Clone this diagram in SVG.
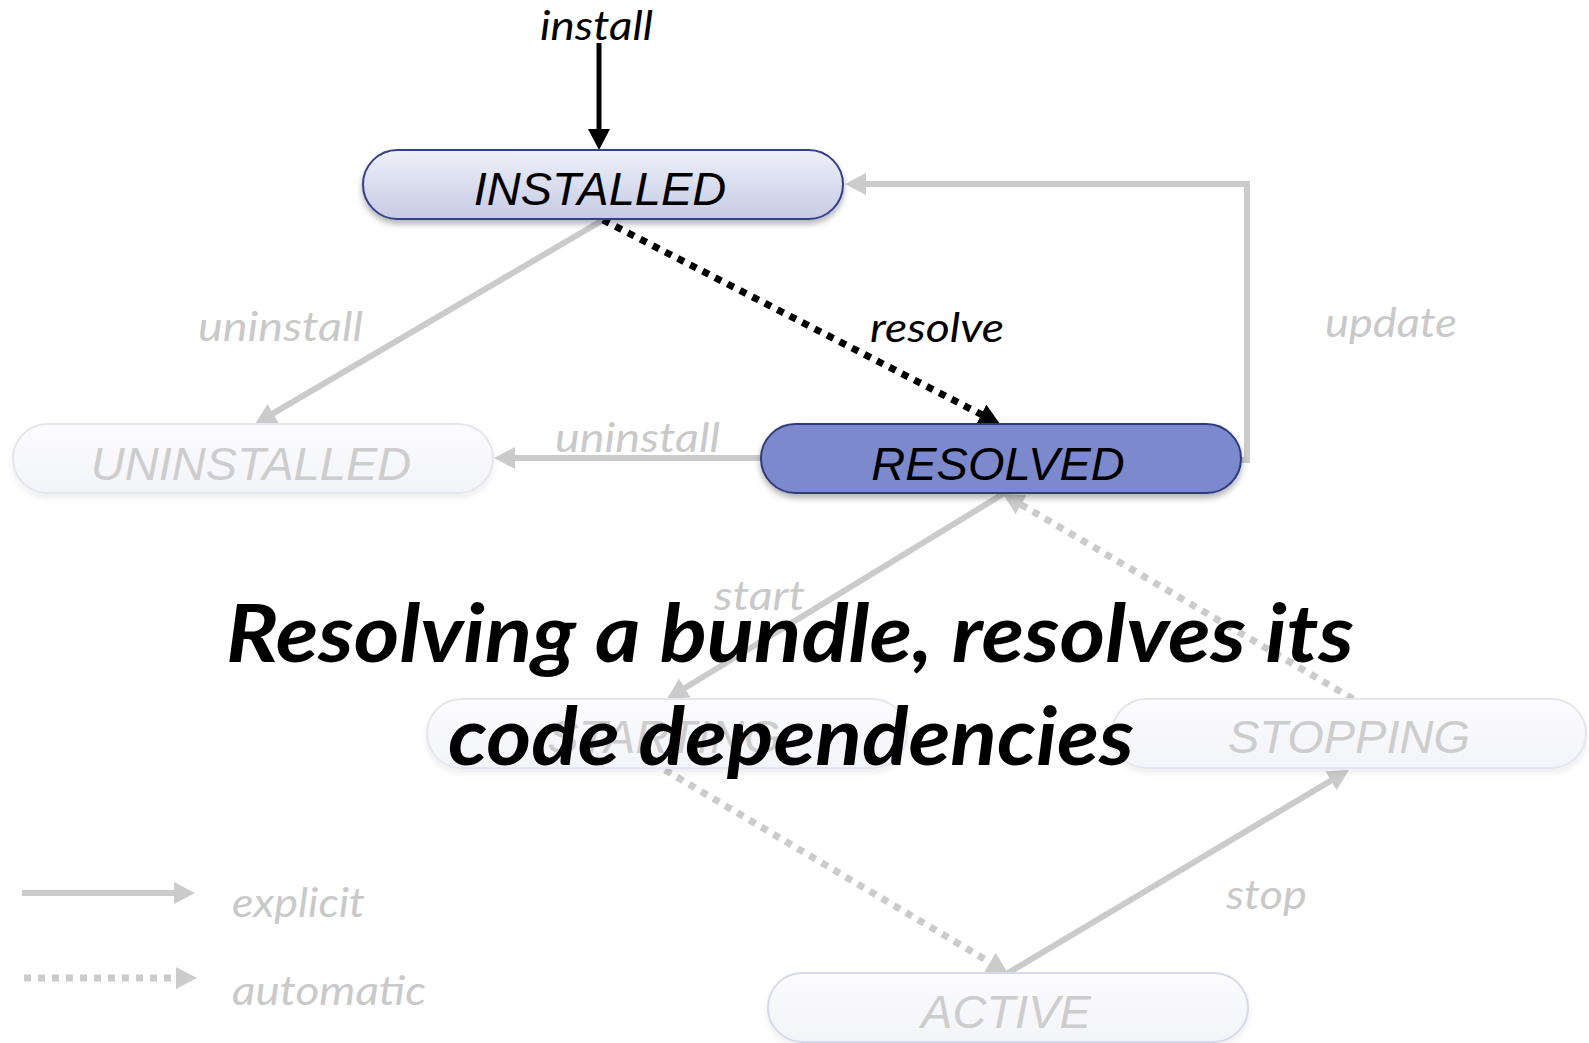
<svg xmlns="http://www.w3.org/2000/svg" width="1589" height="1043" viewBox="0 0 1589 1043">
<style>
.node text{font-family:"Liberation Sans",Arial,sans-serif;font-style:italic;font-size:47px;text-anchor:middle}
.faded rect{fill:url(#gFaded);stroke:#e4e5ee;stroke-width:2}
.faded text{fill:#cdcdcd}
.lbl{font-family:Lato,"Open Sans",sans-serif;font-style:italic;font-size:41px;fill:#c9c9c9}
.lbl.dark{fill:#000}
.g{stroke:#cbcbcb;stroke-width:6;fill:none}
.gd{stroke:#cbcbcb;stroke-width:7;fill:none;stroke-dasharray:7 7}
.title{font-family:Lato,"Open Sans",sans-serif;font-style:italic;font-weight:700;font-size:80px;fill:#000}
</style>
<defs>
<linearGradient id="gInst" x1="0" y1="0" x2="0" y2="1">
<stop offset="0" stop-color="#eef0f8"/>
<stop offset="1" stop-color="#c6cbe4"/>
</linearGradient>
<linearGradient id="gFaded" x1="0" y1="0" x2="0" y2="1">
<stop offset="0" stop-color="#fcfcfe"/>
<stop offset="1" stop-color="#f3f4f9"/>
</linearGradient>
<filter id="sh" x="-10%" y="-30%" width="120%" height="170%">
<feDropShadow dx="0" dy="4" stdDeviation="3" flood-color="#000" flood-opacity="0.3"/>
</filter>
<filter id="shf" x="-10%" y="-30%" width="120%" height="170%">
<feDropShadow dx="0" dy="4" stdDeviation="3" flood-color="#000" flood-opacity="0.07"/>
</filter>
<marker id="aB" markerUnits="userSpaceOnUse" markerWidth="24" markerHeight="24" refX="1" refY="11" orient="auto">
<path d="M0,0 L21,11 L0,22 z" fill="#000"/>
</marker>
<marker id="aG" markerUnits="userSpaceOnUse" markerWidth="24" markerHeight="24" refX="1" refY="11" orient="auto">
<path d="M0,0 L21,11 L0,22 z" fill="#cbcbcb"/>
</marker>
</defs>
<rect width="1589" height="1043" fill="#fff"/>

<g id="connectors">
<line class="g" x1="603" y1="220" x2="272.3" y2="413.9" marker-end="url(#aG)"/>
<path class="g" d="M1241,460 H1247 V184 H865" marker-end="url(#aG)"/>
<line class="g" x1="761" y1="458" x2="514" y2="458" marker-end="url(#aG)"/>
<line class="g" x1="1003" y1="494" x2="684" y2="688.5" marker-end="url(#aG)"/>
<line class="gd" x1="1353" y1="699" x2="1020.3" y2="504.1" marker-end="url(#aG)"/>
<line class="gd" x1="665" y1="770" x2="990.8" y2="962.8" marker-end="url(#aG)"/>
<line class="g" x1="1008" y1="973" x2="1331.8" y2="780.2" marker-end="url(#aG)"/>
<line x1="599" y1="43" x2="599" y2="130" stroke="#000" stroke-width="5" marker-end="url(#aB)"/>
<line x1="603" y1="220" x2="982.2" y2="414.9" stroke="#000" stroke-width="7" stroke-dasharray="7 7" marker-end="url(#aB)"/>
<line class="g" x1="22" y1="893" x2="175" y2="893" marker-end="url(#aG)"/>
<line class="gd" x1="24" y1="978" x2="177" y2="978" marker-end="url(#aG)"/>
</g>

<g id="installed" class="node">
<rect x="363" y="150" width="480" height="69" rx="34.5" fill="url(#gInst)" stroke="#34408a" stroke-width="2" filter="url(#sh)"/>
<text x="600" y="205">INSTALLED</text>
</g>
<g id="uninstalled" class="node faded">
<rect x="13" y="424" width="480" height="69" rx="34.5" filter="url(#shf)"/>
<text x="251" y="480">UNINSTALLED</text>
</g>
<g id="resolved" class="node">
<rect x="761" y="424" width="480" height="69" rx="34.5" fill="#7b89cc" stroke="#2f3b7d" stroke-width="2" filter="url(#sh)"/>
<text x="998" y="480">RESOLVED</text>
</g>
<g id="starting" class="node faded">
<rect x="427" y="699" width="480" height="69" rx="34.5" filter="url(#shf)"/>
<text x="664" y="753">STARTING</text>
</g>
<g id="stopping" class="node faded">
<rect x="1112" y="699" width="474" height="69" rx="34.5" filter="url(#shf)"/>
<text x="1349" y="753">STOPPING</text>
</g>
<g id="active" class="node faded">
<rect x="768" y="973" width="480" height="69" rx="34.5" filter="url(#shf)" style="stroke:#d6d9ec"/>
<text x="1006" y="1028">ACTIVE</text>
</g>

<g id="labels">
<text class="lbl dark" x="540" y="40" textLength="113" lengthAdjust="spacingAndGlyphs">install</text>
<text class="lbl" x="198" y="341" textLength="165" lengthAdjust="spacingAndGlyphs">uninstall</text>
<text class="lbl dark" x="870" y="342" textLength="134" lengthAdjust="spacingAndGlyphs">resolve</text>
<text class="lbl" x="1325" y="337" textLength="132" lengthAdjust="spacingAndGlyphs">update</text>
<text class="lbl" x="555" y="452" textLength="165" lengthAdjust="spacingAndGlyphs">uninstall</text>
<text class="lbl" x="714" y="610" textLength="91" lengthAdjust="spacingAndGlyphs">start</text>
<text class="lbl" x="1226" y="909" textLength="81" lengthAdjust="spacingAndGlyphs">stop</text>
<text class="lbl" x="232" y="917" textLength="133" lengthAdjust="spacingAndGlyphs">explicit</text>
<text class="lbl" x="232" y="1005" textLength="194" lengthAdjust="spacingAndGlyphs">automatic</text>
</g>

<g id="title">
<text class="title" x="226" y="662" textLength="1128" lengthAdjust="spacingAndGlyphs">Resolving a bundle, resolves its</text>
<text class="title" x="448" y="765" textLength="686" lengthAdjust="spacingAndGlyphs">code dependencies</text>
</g>
</svg>
